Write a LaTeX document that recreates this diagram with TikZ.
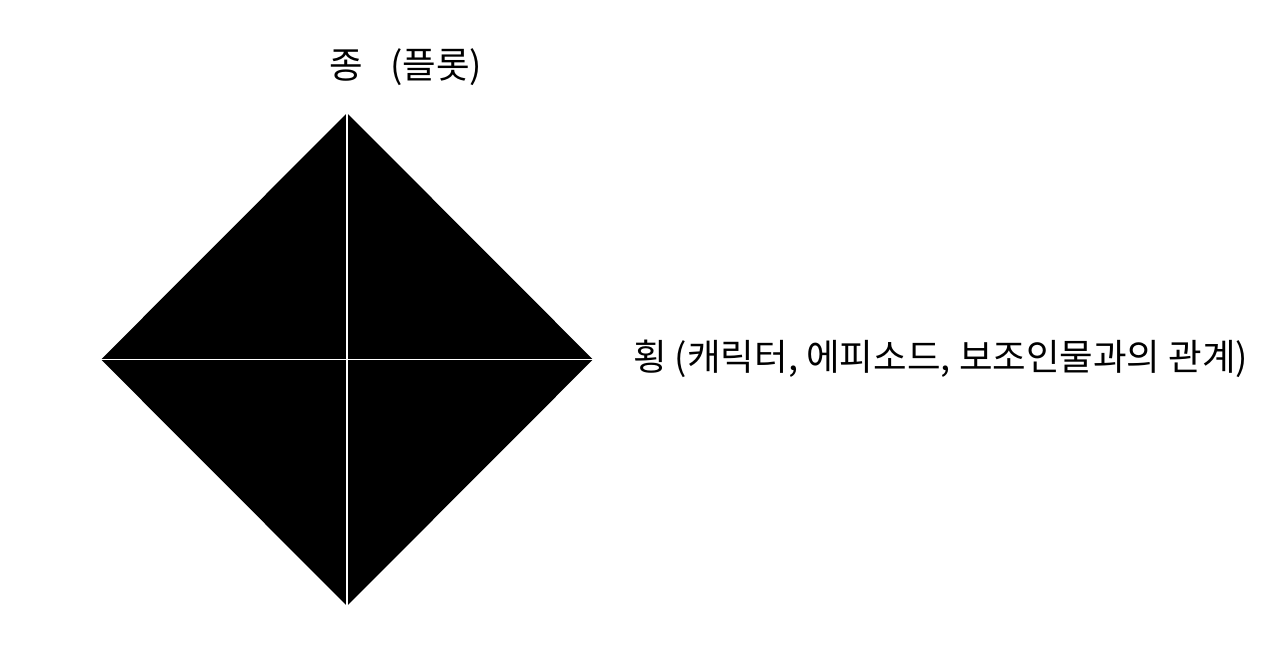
\documentclass[tikz,border=0pt]{standalone}
\usepackage{fontspec}
\setmainfont{Noto Sans CJK KR}
\usetikzlibrary{shapes.geometric}

\begin{document}
\begin{tikzpicture}[x=1pt, y=-1pt,
        lbl/.style={font=\fontsize{36.5}{41}\selectfont, inner sep=0pt}]
        \useasboundingbox (0, 0) rectangle (1280, 663);
        \node[diamond, fill=black, aspect=1, minimum width=492pt, minimum height=493pt, inner sep=0pt] (D) at (347, 359.5) {};

        \node[lbl, anchor=west] (V) at (329, 67) {종\hspace{0.75em}(플롯)};
        \node[lbl, anchor=west] (H) at (633, 359) {횡 (캐릭터, 에피소드, 보조인물과의 관계)};

        \draw[white, line width=1.5pt] (D.west) -- (D.east);
        \draw[white, line width=1.5pt] (D.north) -- (D.south);
    \end{tikzpicture}
\end{document}
